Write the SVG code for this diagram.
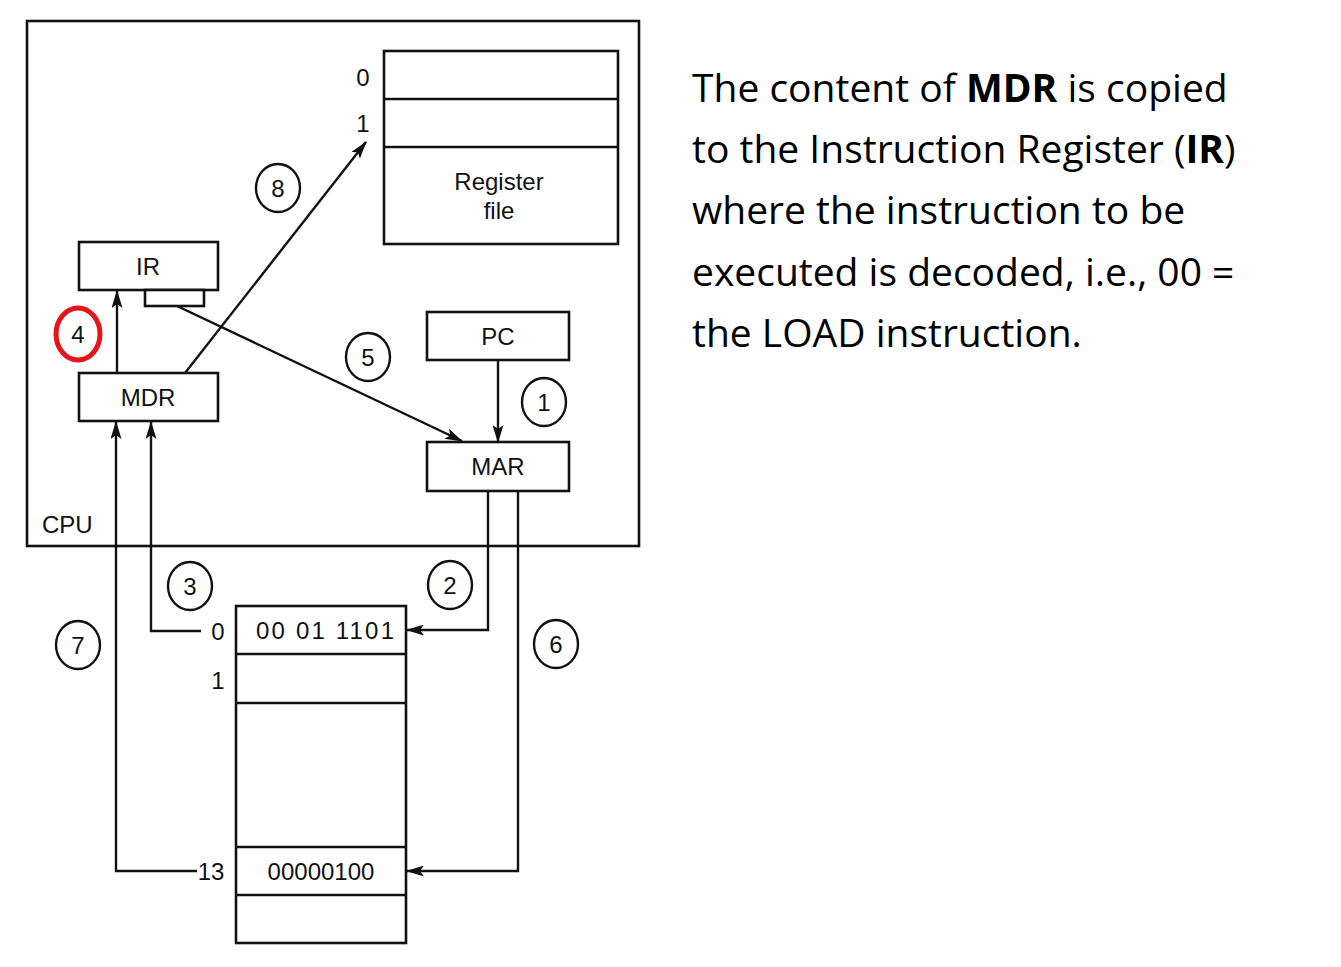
<svg xmlns="http://www.w3.org/2000/svg" width="1341" height="967" viewBox="0 0 1341 967">
<style>
.box{fill:#fff;stroke:#111;stroke-width:2.6}
.ln{fill:none;stroke:#111;stroke-width:2.4}
.num{fill:none;stroke:#111;stroke-width:2.4}
.t{font-family:"Liberation Sans",Arial,sans-serif;font-size:24px;fill:#111;text-anchor:middle}
.n{font-size:24px}
.txt{font-family:"Open Sans","Noto Sans",sans-serif;font-size:39px;fill:#000}
</style>
<defs>
<marker id="ah" markerUnits="userSpaceOnUse" markerWidth="18" markerHeight="11" refX="17" refY="5.5" orient="auto">
<path d="M0,0 L18,5.5 L0,11 L4,5.5 Z" fill="#111"/>
</marker>
</defs>
<rect width="1341" height="967" fill="#fff"/>
<g id="cpu">
<rect class="box" x="27" y="21" width="612" height="525" fill="none"/>
<text class="t" x="42" y="533" style="text-anchor:start">CPU</text>
</g>
<g id="regfile">
<rect class="box" x="384" y="51" width="234" height="193"/>
<line class="ln" x1="384" y1="99" x2="618" y2="99"/>
<line class="ln" x1="384" y1="147" x2="618" y2="147"/>
<text class="t" x="363" y="86">0</text>
<text class="t" x="363" y="132">1</text>
<text class="t" x="499" y="190">Register</text>
<text class="t" x="499" y="219">file</text>
</g>
<g id="ir">
<rect class="box" x="79" y="242" width="139" height="48"/>
<rect class="box" x="145" y="290" width="59" height="16"/>
<text class="t" x="148" y="275">IR</text>
</g>
<g id="mdr">
<rect class="box" x="79" y="373" width="139" height="48"/>
<text class="t" x="148" y="406">MDR</text>
</g>
<g id="pc">
<rect class="box" x="427" y="312" width="142" height="48"/>
<text class="t" x="498" y="345">PC</text>
</g>
<g id="mar">
<rect class="box" x="427" y="442" width="142" height="49"/>
<text class="t" x="498" y="475">MAR</text>
</g>
<g id="memory">
<rect class="box" x="236" y="606" width="170" height="337"/>
<line class="ln" x1="236" y1="654" x2="406" y2="654"/>
<line class="ln" x1="236" y1="703" x2="406" y2="703"/>
<line class="ln" x1="236" y1="847" x2="406" y2="847"/>
<line class="ln" x1="236" y1="895" x2="406" y2="895"/>
<text class="t" x="218" y="640">0</text>
<text class="t" x="218" y="689">1</text>
<text class="t" x="211" y="880">13</text>
<text class="t" x="325" y="639" textLength="138" lengthAdjust="spacing">00 01 1101</text>
<text class="t" x="321" y="880">00000100</text>
</g>
<g id="connectors">
<line class="ln" x1="117" y1="373" x2="117" y2="291" marker-end="url(#ah)"/>
<line class="ln" x1="185" y1="373" x2="366" y2="142" marker-end="url(#ah)"/>
<line class="ln" x1="177" y1="306" x2="462" y2="441" marker-end="url(#ah)"/>
<line class="ln" x1="498" y1="360" x2="498" y2="442" marker-end="url(#ah)"/>
<polyline class="ln" points="488,491 488,630 407,630" marker-end="url(#ah)"/>
<polyline class="ln" points="518,491 518,871 407,871" marker-end="url(#ah)"/>
<polyline class="ln" points="201,631 151,631 151,422" marker-end="url(#ah)"/>
<polyline class="ln" points="197,871 116,871 116,422" marker-end="url(#ah)"/>
</g>
<g id="steps">
<ellipse class="num" cx="278" cy="188" rx="22" ry="24"/><text class="t n" x="278" y="197">8</text>
<ellipse cx="78" cy="334" rx="22" ry="26" fill="none" stroke="#e8141b" stroke-width="5"/><text class="t n" x="78" y="343">4</text>
<ellipse class="num" cx="368" cy="357" rx="22" ry="24"/><text class="t n" x="368" y="366">5</text>
<ellipse class="num" cx="544" cy="402" rx="22" ry="24"/><text class="t n" x="544" y="411">1</text>
<ellipse class="num" cx="190" cy="586" rx="22" ry="24"/><text class="t n" x="190" y="595">3</text>
<ellipse class="num" cx="450" cy="585" rx="22" ry="24"/><text class="t n" x="450" y="594">2</text>
<ellipse class="num" cx="78" cy="645" rx="22" ry="24"/><text class="t n" x="78" y="654">7</text>
<ellipse class="num" cx="556" cy="644" rx="22" ry="24"/><text class="t n" x="556" y="653">6</text>
</g>
<g id="description">
<text class="txt" x="692" y="102">The content of <tspan font-weight="bold">MDR</tspan> is copied</text>
<text class="txt" x="692" y="163">to the Instruction Register (<tspan font-weight="bold">IR</tspan>)</text>
<text class="txt" x="692" y="224">where the instruction to be</text>
<text class="txt" x="692" y="286">executed is decoded, i.e., 00 =</text>
<text class="txt" x="692" y="347">the LOAD instruction.</text>
</g>
</svg>
